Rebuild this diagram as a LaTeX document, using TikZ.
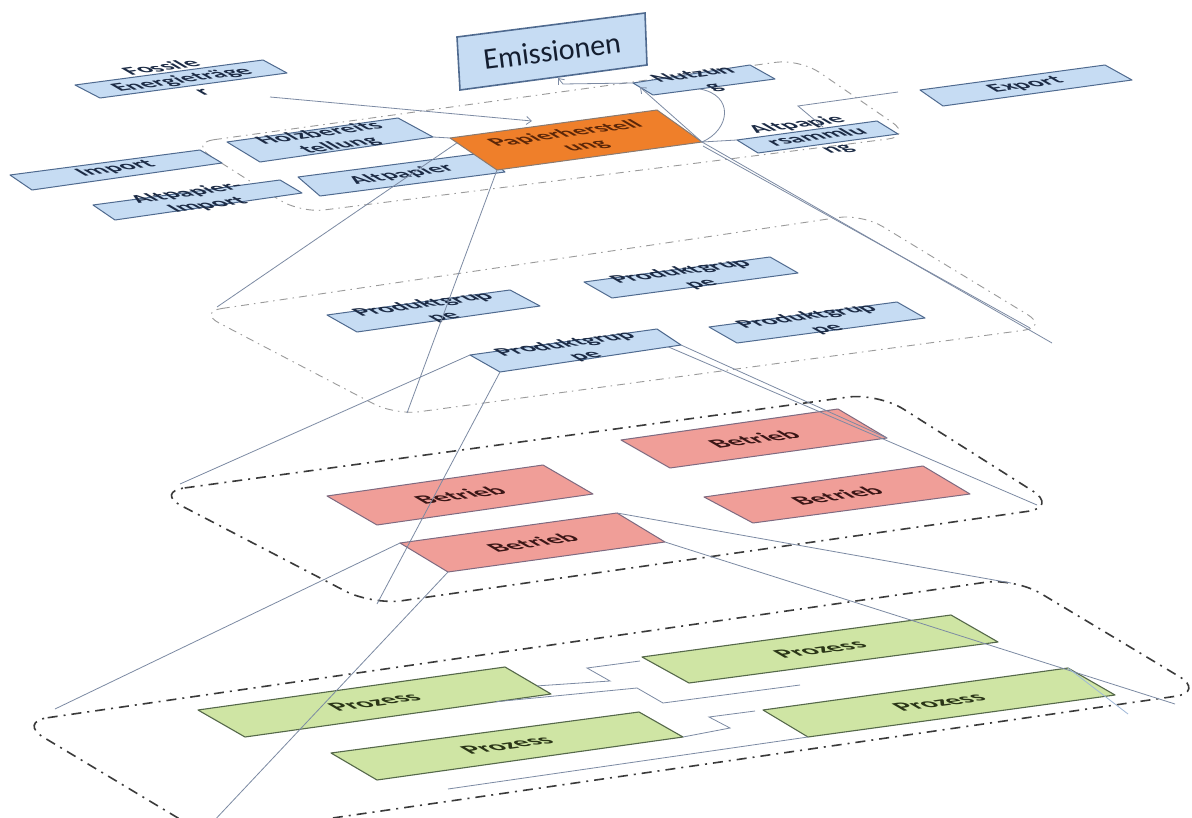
\documentclass[tikz,border=0pt]{standalone}
\usepackage{fontspec}
\newfontfamily\lbl{Carlito}
\usetikzlibrary{calc,arrows.meta}

\definecolor{bluefill}{HTML}{C6DCF3}
\definecolor{blueedge}{HTML}{4F6A8F}
\definecolor{bluetext}{HTML}{1C2B45}
\definecolor{orangefill}{HTML}{EF7F2A}
\definecolor{orangeedge}{HTML}{8A7A70}
\definecolor{orangetext}{HTML}{5B2608}
\definecolor{pinkfill}{HTML}{F09E98}
\definecolor{pinkedge}{HTML}{7E6A80}
\definecolor{pinktext}{HTML}{3A1616}
\definecolor{greenfill}{HTML}{CFE5A4}
\definecolor{greenedge}{HTML}{55684A}
\definecolor{greentext}{HTML}{2A3517}
\definecolor{connline}{HTML}{7C8AA3}
\definecolor{lightconn}{HTML}{9FB8D8}
\definecolor{layerlight}{HTML}{9A9A9A}
\definecolor{layerdark}{HTML}{3A3A3A}

\tikzset{
  plane/.style={cm={0.99,0.136,-0.68,0.40,(0,0)}, inner sep=0pt, align=center,
    font=\lbl\bfseries\fontsize{26}{30}\selectfont},
  bigplane/.style={font=\lbl\bfseries\fontsize{28}{30}\selectfont},
  bluebox/.style={fill=bluefill, draw=blueedge, line width=1pt, line join=round},
  orangebox/.style={fill=orangefill, draw=orangeedge, line width=1pt, line join=round},
  pinkbox/.style={fill=pinkfill, draw=pinkedge, line width=1pt, line join=round},
  greenbox/.style={fill=greenfill, draw=greenedge, line width=1.1pt, line join=round},
  bluelabel/.style={text=bluetext},
  orangelabel/.style={text=orangetext},
  pinklabel/.style={text=pinktext, bigplane},
  greenlabel/.style={text=greentext, bigplane},
  layerthin/.style={draw=layerlight, line width=0.9pt, rounded corners=24pt,
    dash pattern=on 8pt off 5pt on 1.5pt off 5pt},
  layerthick/.style={draw=layerdark, line width=1.6pt, rounded corners=30pt,
    dash pattern=on 10pt off 6pt on 2pt off 6pt},
  conn/.style={draw=connline, line width=0.8pt},
  tip/.style={-{Straight Barb[length=5pt,width=8pt]}}
}

% a box lying on one of the tilted planes, with its label set in the same plane
\newcommand\planebox[8]{%
  \coordinate (#1-tl) at #2;
  \coordinate (#1-tr) at #3;
  \coordinate (#1-br) at #4;
  \coordinate (#1-bl) at #5;
  \draw[#6] (#1-tl) -- (#1-tr) -- (#1-br) -- (#1-bl) -- cycle;
  \node[plane,#7] (#1) at ($(#1-tl)!0.5!(#1-br)$) {#8};
}

\begin{document}
\begin{tikzpicture}[x=1pt,y=-1pt]
\fill[white] (0,0) rectangle (1192,818);
\useasboundingbox (0,0) rectangle (1192,818);

\begin{scope}
\clip (0,0) rectangle (1192,818);

% level outlines
\draw[layerthin] (190,143) -- (800,59) -- (912,136) -- (300,213) -- cycle;
\draw[layerthin] (198,312) -- (862,214) -- (1048,327) -- (395,415) -- cycle;
\draw[layerthick] (155,492) -- (878,393) -- (1058,507) -- (372,605) -- cycle;
\draw[layerthick] (18,722) -- (1015,578) -- (1205,692) -- (208,836) -- cycle;

% emissions box
\coordinate (emi-tl) at (457,37);
\coordinate (emi-tr) at (645,13);
\coordinate (emi-br) at (647,65);
\coordinate (emi-bl) at (460,90);
\draw[fill=bluefill, draw=blueedge, line width=1.6pt]
  (emi-tl) -- (emi-tr) -- (emi-br) -- (emi-bl) -- cycle;
\node[rotate=7.3, text=bluetext!70!black, font=\lbl\fontsize{30}{32}\selectfont]
  (emi) at (552,51) {Emissionen};

% top level: paper industry
\planebox{foss}{(75,85)}{(263,60)}{(287,73)}{(100,98)}{bluebox}{bluelabel}{Fossile\\Energieträge\\r}
\planebox{imp}{(10,175)}{(200,150)}{(222,163)}{(32,190)}{bluebox}{bluelabel}{Import}
\planebox{aimp}{(93,205)}{(280,180)}{(302,193)}{(115,220)}{bluebox}{bluelabel}{Altpapier-\\Import}
\planebox{holz}{(227,142)}{(398,118)}{(433,137)}{(260,162)}{bluebox}{bluelabel}{Holzbereits\\tellung}
\planebox{alt}{(298,177)}{(483,153)}{(505,172)}{(320,196)}{bluebox}{bluelabel}{Altpapier}
\planebox{pap}{(450,138)}{(657,110)}{(702,142)}{(497,170)}{orangebox}{orangelabel}{Papierherstell\\ung}
\planebox{nutz}{(633,83)}{(750,65)}{(775,79)}{(653,95)}{bluebox}{bluelabel}{Nutzun\\g}
\planebox{aps}{(737,140)}{(877,121)}{(898,134)}{(758,153)}{bluebox}{bluelabel}{Altpapie\\rsammlu\\ng}
\planebox{exp}{(920,90)}{(1105,65)}{(1132,80)}{(943,106)}{bluebox}{bluelabel}{Export}

% second level: product groups
\planebox{pga}{(327,315)}{(510,290)}{(540,306)}{(357,332)}{bluebox}{bluelabel}{Produktgrup\\pe}
\planebox{pgb}{(584,282)}{(770,257)}{(798,273)}{(612,298)}{bluebox}{bluelabel}{Produktgrup\\pe}
\planebox{pgc}{(470,355)}{(657,329)}{(681,345)}{(500,372)}{bluebox}{bluelabel}{Produktgrup\\pe}
\planebox{pgd}{(709,327)}{(897,302)}{(925,318)}{(737,343)}{bluebox}{bluelabel}{Produktgrup\\pe}

% third level: plants
\planebox{bl}{(327,496)}{(543,465)}{(593,494)}{(377,525)}{pinkbox}{pinklabel}{Betrieb}
\planebox{bur}{(621,440)}{(838,409)}{(887,438)}{(670,468)}{pinkbox}{pinklabel}{Betrieb}
\planebox{br}{(704,497)}{(923,466)}{(970,494)}{(753,523)}{pinkbox}{pinklabel}{Betrieb}
\planebox{bc}{(400,543)}{(617,513)}{(665,542)}{(448,572)}{pinkbox}{pinklabel}{Betrieb}

% fourth level: processes
\planebox{lp}{(198,710)}{(505,667)}{(551,694)}{(245,737)}{greenbox}{greenlabel}{Prozess}
\planebox{up}{(642,657)}{(951,615)}{(998,642)}{(689,683)}{greenbox}{greenlabel}{Prozess}
\planebox{cp}{(331,753)}{(639,712)}{(683,737)}{(377,780)}{greenbox}{greenlabel}{Prozess}
\planebox{rp}{(763,710)}{(1068,668)}{(1115,695)}{(808,737)}{greenbox}{greenlabel}{Prozess}

% flows on the top level
\coordinate (foss-out) at (270,97);
\coordinate (pap-in) at (532,121);
\draw[conn,tip] (foss-out) -- (pap-in);
\coordinate (emi-bend) at (563,84);
\coordinate (emi-in) at (558,78);
\draw[conn,tip] (nutz-tl) -- (emi-bend) -- (emi-in);
\draw[conn,tip] (pap-br) -- ($(nutz-tl)!0.35!(nutz-bl)$);
\draw[conn] (pap-br) .. controls (730,130) and (735,95) .. ($(nutz-bl)!0.38!(nutz-br)$);
\draw[conn] (pap-br) -- (aps-tl);
\draw[conn] (holz-br) -- (pap-tl);
\coordinate (aps-up) at (823,127);
\coordinate (exp-bend) at (798,106);
\coordinate (exp-in) at (898,92);
\draw[conn] (aps-up) -- (exp-bend) -- (exp-in);

% funnel lines from a box down to the level that details it
\coordinate (l2-west) at (217,307);
\coordinate (l2-south) at (407,413);
\coordinate (l2-east) at (1052,343);
\coordinate (l2-east-b) at (1030,328);
\coordinate (pap-r2) at (703,146);
\draw[conn] ($(pap-tl)!0.15!(pap-bl)$) -- (l2-west);
\draw[conn] (pap-bl) -- (l2-south);
\draw[conn] (pap-br) -- (l2-east);
\draw[conn] (pap-r2) -- (l2-east-b);

\coordinate (l3-west) at (180,484);
\coordinate (l3-south) at (377,604);
\coordinate (l3-east) at (1037,505);
\coordinate (pgc-r2) at ($(pgc-bl)!0.93!(pgc-br)$);
\draw[conn] (pgc-tl) -- (l3-west);
\draw[conn] (pgc-bl) -- (l3-south);
\draw[conn] (pgc-br) -- (bur-br);
\draw[conn] (pgc-r2) -- (l3-east);

\coordinate (l4-west) at (55,709);
\coordinate (l4-south) at (211,824);
\coordinate (l4-north) at (1011,583);
\coordinate (l4-east) at (1175,704);
\draw[conn] (bc-tl) -- (l4-west);
\draw[conn] (bc-bl) -- (l4-south);
\draw[conn] (bc-tr) -- (l4-north);
\draw[conn] (bc-br) -- (l4-east);

% process links on the bottom level
\coordinate (p1a) at (610,681);
\coordinate (p1b) at (587,668);
\coordinate (p1c) at (640,661);
\draw[conn] ($(lp-tr)!0.7!(lp-br)$) -- (p1a) -- (p1b) -- (p1c);
\coordinate (p2a) at (637,688);
\coordinate (p2b) at (663,703);
\coordinate (p2c) at (800,685);
\draw[conn] ($(lp-bl)!0.82!(lp-br)$) -- (p2a) -- (p2b) -- (p2c);
\coordinate (p3a) at (730,728);
\coordinate (p3b) at (709,717);
\coordinate (p3c) at (755,711);
\draw[conn] (cp-br) -- (p3a) -- (p3b) -- (p3c);
\coordinate (p4a) at (448,789);
\draw[conn] (p4a) -- (rp-bl);
\coordinate (rp-edge) at (1128,714);
\draw[conn, draw=lightconn] (rp-tr) -- (rp-edge);
\end{scope}
\end{tikzpicture}
\end{document}
